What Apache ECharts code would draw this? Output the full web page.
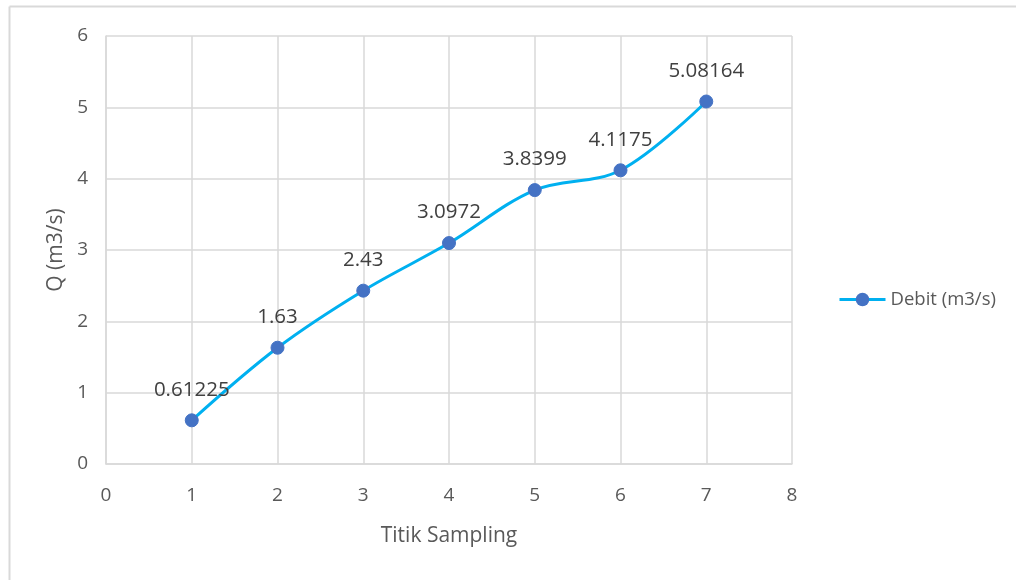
<!DOCTYPE html>
<html>
<head>
<meta charset="utf-8">
<script src="https://cdn.jsdelivr.net/npm/echarts@6/dist/echarts.min.js"></script>
<style>
  html, body { margin: 0; padding: 0; background: #fff; }
  #chart { width: 1016px; height: 580px; }
</style>
</head>
<body>
<div id="chart"></div>
<script>
// Sampling points and discharge values
const samplePoints = [1, 2, 3, 4, 5, 6, 7];
const discharge = [0.61225, 1.63, 2.43, 3.0972, 3.8399, 4.1175, 5.08164];
const dischargeLabels = ['0.61225', '1.63', '2.43', '3.0972', '3.8399', '4.1175', '5.08164'];
const seriesName = 'Debit (m3/s)';

const FONT = '"Open Sans", "Noto Sans", sans-serif';
const GRID_GREY = '#d9d9d9';
const TEXT_GREY = '#595959';

const chart = echarts.init(document.getElementById('chart'));
chart.setOption({
  animation: false,
  backgroundColor: '#fff',
  graphic: [
    // light outer frame on the left and top edges
    { type: 'line', shape: { x1: 9.5, y1: 6.5, x2: 9.5, y2: 580 }, style: { stroke: GRID_GREY, lineWidth: 2 } },
    { type: 'line', shape: { x1: 9.5, y1: 6.5, x2: 1016, y2: 6.5 }, style: { stroke: GRID_GREY, lineWidth: 2 } }
  ],
  grid: { left: 106, right: 224, top: 36, bottom: 116, containLabel: false },
  legend: {
    left: 833, top: 285,
    itemWidth: 46, itemHeight: 17, itemGap: 10,
    lineStyle: { width: 3 },
    textStyle: { fontFamily: FONT, fontSize: 18.5, color: TEXT_GREY },
    data: [seriesName]
  },
  xAxis: {
    type: 'value', min: 0, max: 8, interval: 1,
    name: 'Titik Sampling', nameLocation: 'middle', nameGap: 62,
    nameTextStyle: { fontFamily: FONT, fontSize: 21, color: TEXT_GREY },
    axisLine: { show: true, lineStyle: { color: GRID_GREY, width: 1.5 } },
    axisTick: { show: false },
    axisLabel: { fontFamily: FONT, fontSize: 19, color: TEXT_GREY, margin: 22 },
    splitLine: { show: true, lineStyle: { color: GRID_GREY, width: 1.5 } }
  },
  yAxis: {
    type: 'value', min: 0, max: 6, interval: 1,
    name: 'Q (m3/s)', nameLocation: 'middle', nameGap: 33, nameRotate: 90,
    nameTextStyle: { fontFamily: FONT, fontSize: 21, color: TEXT_GREY },
    axisLine: { show: true, lineStyle: { color: GRID_GREY, width: 1.5 } },
    axisTick: { show: false },
    axisLabel: { fontFamily: FONT, fontSize: 19, color: TEXT_GREY, margin: 18 },
    splitLine: { show: true, lineStyle: { color: GRID_GREY, width: 1.5 } }
  },
  series: [{
    name: seriesName,
    type: 'line',
    smooth: 0.35,
    symbol: 'circle',
    symbolSize: 13,
    data: samplePoints.map((x, i) => [x, discharge[i]]),
    lineStyle: { color: '#00B0F0', width: 3 },
    itemStyle: { color: '#4472C4', borderColor: '#4472C4' },
    label: {
      show: true, position: 'top', distance: 13,
      fontFamily: FONT, fontSize: 20.5, color: '#404040',
      formatter: p => dischargeLabels[p.dataIndex]
    }
  }]
});
</script>
</body>
</html>
